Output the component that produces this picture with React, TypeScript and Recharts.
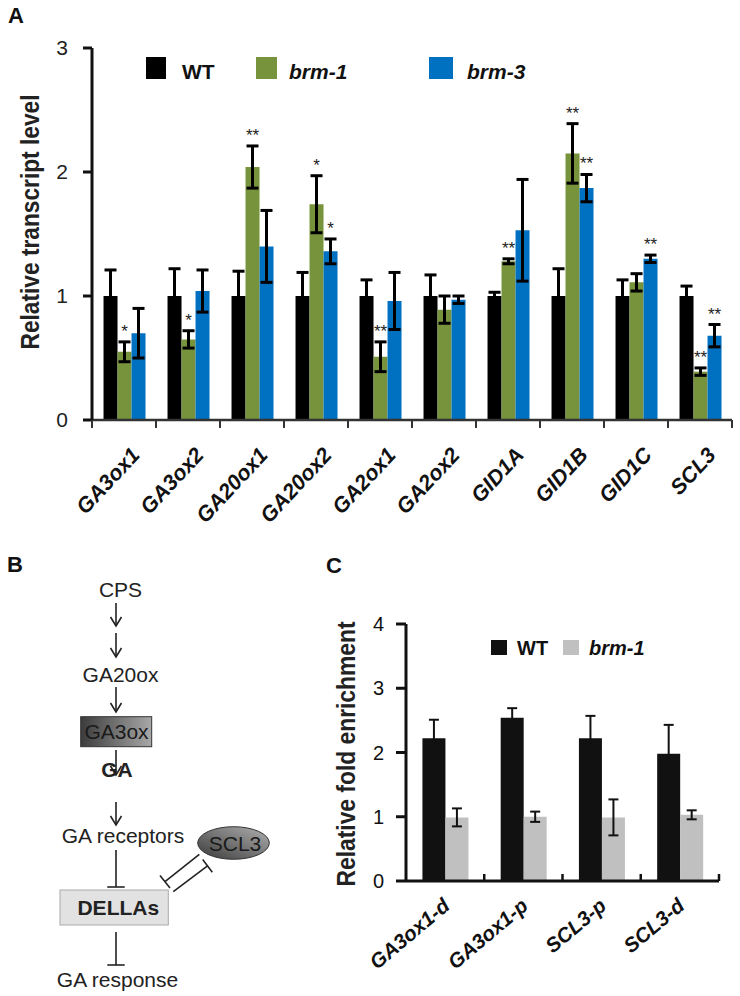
import React from 'react';
import { BarChart, Bar, XAxis, YAxis, ErrorBar, LabelList, Legend } from 'recharts';

// ---------- Panel A data ----------
const genesA = ['GA3ox1', 'GA3ox2', 'GA20ox1', 'GA20ox2', 'GA2ox1', 'GA2ox2', 'GID1A', 'GID1B', 'GID1C', 'SCL3'];
const wtA = [1, 1, 1, 1, 1, 1, 1, 1, 1, 1];
const wtErrA = [0.21, 0.22, 0.2, 0.19, 0.13, 0.17, 0.03, 0.22, 0.13, 0.08];
const brm1A = [0.55, 0.65, 2.04, 1.74, 0.51, 0.89, 1.28, 2.15, 1.11, 0.39];
const brm1ErrA = [0.08, 0.07, 0.17, 0.23, 0.12, 0.11, 0.02, 0.24, 0.07, 0.03];
const brm3A = [0.7, 1.04, 1.4, 1.36, 0.96, 0.97, 1.53, 1.87, 1.3, 0.68];
const brm3ErrA = [0.2, 0.17, 0.29, 0.1, 0.23, 0.03, 0.41, 0.11, 0.03, 0.09];
const brm1SigA = ['*', '*', '**', '*', '**', '', '**', '**', '', '**'];
const brm3SigA = ['', '', '', '*', '', '', '', '**', '**', '**'];
const yTicksA = [0, 1, 2, 3];

// ---------- Panel C data ----------
const regionsC = ['GA3ox1-d', 'GA3ox1-p', 'SCL3-p', 'SCL3-d'];
const wtC = [2.22, 2.54, 2.22, 1.98];
const wtErrC = [0.29, 0.15, 0.35, 0.45];
const brm1C = [0.99, 1.0, 0.99, 1.03];
const brm1ErrC = [0.14, 0.08, 0.28, 0.07];
const yTicksC = [0, 1, 2, 3, 4];

const dataA = genesA.map((gene, i) => ({
  gene,
  wt: wtA[i],
  wtErr: wtErrA[i],
  brm1: brm1A[i],
  brm1Err: brm1ErrA[i],
  brm3: brm3A[i],
  brm3Err: brm3ErrA[i],
  brm1Sig: brm1SigA[i],
  brm3Sig: brm3SigA[i],
}));

const dataC = regionsC.map((region, i) => ({
  region,
  wt: wtC[i],
  wtErr: wtErrC[i],
  brm1: brm1C[i],
  brm1Err: brm1ErrC[i],
}));

const FONT = "'Liberation Sans', Arial, Helvetica, sans-serif";

const makeStar = (key: 'brm1' | 'brm3') => (props: any) => {
  const vb = props.viewBox || {};
  const x = Number(vb.x ?? props.x);
  const y = Number(vb.y ?? props.y);
  const w = Number(vb.width ?? props.width);
  const h = Number(vb.height ?? props.height);
  const row: any = dataA[props.index];
  const text = props.value;
  if (!text || !row) return null;
  const v = row[key];
  const e = row[key + 'Err'];
  const errTop = y - (h / v) * e;
  return (
    <text x={x + w / 2} y={errTop - 5} textAnchor="middle" fontSize={17} fill="#222" fontFamily={FONT}>
      {text}
    </text>
  );
};

function XTickA(props: any) {
  const { x, y, payload, index, visibleTicksCount, width } = props;
  const n = visibleTicksCount || genesA.length;
  const bw = width ? width / n : 64;
  const ax = x + 17;
  const ay = y + 36;
  return (
    <g>
      <line x1={x - bw / 2} y1={y} x2={x - bw / 2} y2={y + 8} stroke="#333" strokeWidth={2} />
      {index === n - 1 && <line x1={x + bw / 2} y1={y} x2={x + bw / 2} y2={y + 8} stroke="#333" strokeWidth={2} />}
      <text
        x={ax}
        y={ay}
        transform={`rotate(-47, ${ax}, ${ay})`}
        textAnchor="end"
        fontFamily={FONT}
        fontSize={21.5}
        fontWeight="bold"
        fontStyle="italic"
        fill="#111"
      >
        {payload.value}
      </text>
    </g>
  );
}

function XTickC(props: any) {
  const { x, y, payload, index, visibleTicksCount, width } = props;
  const n = visibleTicksCount || regionsC.length;
  const bw = width ? width / n : 78;
  const ax = x + 6;
  const ay = y + 27;
  return (
    <g>
      {index > 0 && <line x1={x - bw / 2} y1={y} x2={x - bw / 2} y2={y - 7} stroke="#111" strokeWidth={2.5} />}
      {index === n - 1 && <line x1={x + bw / 2} y1={y} x2={x + bw / 2} y2={y - 7} stroke="#111" strokeWidth={2.5} />}
      <text
        x={ax}
        y={ay}
        transform={`rotate(-40, ${ax}, ${ay})`}
        textAnchor="end"
        fontFamily={FONT}
        fontSize={20.5}
        fontWeight="bold"
        fontStyle="italic"
        fill="#111"
      >
        {payload.value}
      </text>
    </g>
  );
}

const legendAPos = [
  { sq: 6, sw: 20, tx: 42 },
  { sq: 116, sw: 21, tx: 149 },
  { sq: 289, sw: 24, tx: 327 },
];

function LegendA(props: any) {
  const items = props.payload || [];
  return (
    <svg width={420} height={30} style={{ overflow: 'visible' }}>
      {items.map((it: any, i: number) => {
        const p = legendAPos[i];
        if (!p) return null;
        const italic = String(it.value).startsWith('brm');
        return (
          <g key={i}>
            <rect x={p.sq} y={2} width={p.sw} height={22} fill={it.color} />
            <text x={p.tx} y={23.5} fontFamily={FONT} fontSize={21} fontWeight="bold" fontStyle={italic ? 'italic' : 'normal'} fill="#111">
              {it.value}
            </text>
          </g>
        );
      })}
    </svg>
  );
}

const legendCPos = [
  { sq: 0, tx: 26 },
  { sq: 72, tx: 98 },
];

function LegendC(props: any) {
  const items = props.payload || [];
  return (
    <svg width={200} height={24} style={{ overflow: 'visible' }}>
      {items.map((it: any, i: number) => {
        const p = legendCPos[i];
        if (!p) return null;
        const italic = String(it.value).startsWith('brm');
        return (
          <g key={i}>
            <rect x={p.sq} y={2} width={16} height={15} fill={it.color} />
            <text x={p.tx} y={17} fontFamily={FONT} fontSize={20} fontWeight="bold" fontStyle={italic ? 'italic' : 'normal'} fill="#111">
              {it.value}
            </text>
          </g>
        );
      })}
    </svg>
  );
}

function Arrow({ x, y1, y2 }: { x: number; y1: number; y2: number }) {
  return (
    <g stroke="#222" strokeWidth={1.6} fill="none">
      <line x1={x} y1={y1} x2={x} y2={y2} />
      <polyline points={`${x - 5.5},${y2 - 9} ${x},${y2} ${x + 5.5},${y2 - 9}`} />
    </g>
  );
}

function Inhibit({ x1, y1, x2, y2, half }: { x1: number; y1: number; x2: number; y2: number; half: number }) {
  const dx = x2 - x1;
  const dy = y2 - y1;
  const len = Math.sqrt(dx * dx + dy * dy);
  const px = -dy / len;
  const py = dx / len;
  return (
    <g stroke="#222" strokeWidth={1.6} fill="none">
      <line x1={x1} y1={y1} x2={x2} y2={y2} />
      <line x1={x2 - px * half} y1={y2 - py * half} x2={x2 + px * half} y2={y2 + py * half} />
    </g>
  );
}

function Overlay() {
  return (
    <svg width={740} height={996} style={{ position: 'absolute', left: 0, top: 0, pointerEvents: 'none' }}>
      <defs>
        <linearGradient id="gaBox" x1="0" y1="0" x2="1" y2="0">
          <stop offset="0" stopColor="#3c3c3c" />
          <stop offset="1" stopColor="#a8a8a8" />
        </linearGradient>
        <linearGradient id="sclEll" x1="0" y1="1" x2="1" y2="0">
          <stop offset="0" stopColor="#3a3a3a" />
          <stop offset="1" stopColor="#b0b0b0" />
        </linearGradient>
      </defs>
      {/* panel letters */}
      <text x={8} y={23} fontFamily={FONT} fontSize={22} fontWeight="bold" fill="#111">A</text>
      <text x={7} y={572} fontFamily={FONT} fontSize={22} fontWeight="bold" fill="#111">B</text>
      <text x={326} y={573} fontFamily={FONT} fontSize={22} fontWeight="bold" fill="#111">C</text>

      {/* axis titles */}
      <text
        x={38.5}
        y={222}
        transform="rotate(-90, 38.5, 222)"
        textAnchor="middle"
        fontFamily={FONT}
        fontSize={26}
        fontWeight="bold"
        fill="#222"
        textLength={255}
        lengthAdjust="spacingAndGlyphs"
      >
        Relative transcript level
      </text>
      <text
        x={355}
        y={754}
        transform="rotate(-90, 355, 754)"
        textAnchor="middle"
        fontFamily={FONT}
        fontSize={26}
        fontWeight="bold"
        fill="#222"
        textLength={265}
        lengthAdjust="spacingAndGlyphs"
      >
        Relative fold enrichment
      </text>

      {/* panel B diagram */}
      <g fontFamily={FONT} fontSize={21} fill="#222" textAnchor="middle">
        <text x={120.5} y={597}>CPS</text>
        <Arrow x={116} y1={603} y2={626} />
        <Arrow x={116} y1={633} y2={657} />
        <text x={120.5} y={682}>GA20ox</text>
        <Arrow x={116} y1={687} y2={712} />
        <rect x={80.7} y={716.7} width={71} height={30} fill="url(#gaBox)" stroke="#333" strokeWidth={1} />
        <text x={116.5} y={738.5} fill="#1a1a1a">GA3ox</text>
        <Arrow x={116} y1={750} y2={775} />
        <text x={117} y={777} fontWeight="bold">GA</text>
        <Arrow x={116} y1={802} y2={825} />
        <text x={123} y={843}>GA receptors</text>
        <Inhibit x1={116} y1={850} x2={116} y2={887} half={8.7} />
        <rect x={60} y={890} width={108.3} height={35} fill="#e2e2e2" stroke="#aaaaaa" strokeWidth={1} />
        <text x={118.3} y={915} fontWeight="bold">DELLAs</text>
        <Inhibit x1={116} y1={932} x2={116} y2={965} half={8.7} />
        <text x={117.5} y={987}>GA response</text>
        <ellipse cx={233.5} cy={843} rx={35.8} ry={16.3} fill="url(#sclEll)" stroke="#333" strokeWidth={1} />
        <text x={235} y={850.5} fill="#1a1a1a">SCL3</text>
        <Inhibit x1={199.3} y1={854.3} x2={165} y2={881.7} half={8} />
        <Inhibit x1={173.3} y1={891.7} x2={207.5} y2={865.8} half={8} />
      </g>
    </svg>
  );
}

export default function App() {
  return (
    <div style={{ position: 'absolute', left: 0, top: 0, width: 740, height: 996, background: '#fff' }}>
      <div style={{ position: 'absolute', left: 0, top: 0 }}>
        <BarChart
          width={740}
          height={540}
          data={dataA}
          margin={{ top: 48, right: 8, left: 0, bottom: 20 }}
          barCategoryGap="18%"
          barGap={0}
        >
          <XAxis
            dataKey="gene"
            interval={0}
            tickLine={false}
            tickSize={0}
            tickMargin={0}
            height={100}
            axisLine={{ stroke: '#333', strokeWidth: 2.5 }}
            tick={<XTickA />}
          />
          <YAxis
            domain={[0, 3]}
            ticks={yTicksA}
            width={92}
            tickSize={9}
            tickMargin={15}
            axisLine={{ stroke: '#111', strokeWidth: 3 }}
            tickLine={{ stroke: '#111', strokeWidth: 3 }}
            tick={{ fontFamily: FONT, fontSize: 21, fill: '#222' }}
          />
          <Legend
            layout="vertical"
            align="center"
            verticalAlign="middle"
            wrapperStyle={{ left: 140, top: 55, width: 420, height: 30 }}
            content={<LegendA />}
          />
          <Bar dataKey="wt" name="WT" fill="#000000" isAnimationActive={false}>
            <ErrorBar dataKey="wtErr" width={6} strokeWidth={3} stroke="#000" />
          </Bar>
          <Bar dataKey="brm1" name="brm-1" fill="#77933C" isAnimationActive={false}>
            <ErrorBar dataKey="brm1Err" width={6} strokeWidth={3} stroke="#000" />
            <LabelList dataKey="brm1Sig" content={makeStar('brm1')} />
          </Bar>
          <Bar dataKey="brm3" name="brm-3" fill="#0070C0" isAnimationActive={false}>
            <ErrorBar dataKey="brm3Err" width={6} strokeWidth={3} stroke="#000" />
            <LabelList dataKey="brm3Sig" content={makeStar('brm3')} />
          </Bar>
        </BarChart>
      </div>

      <div style={{ position: 'absolute', left: 300, top: 600 }}>
        <BarChart
          width={440}
          height={396}
          data={dataC}
          margin={{ top: 24, right: 21, left: 0, bottom: 5 }}
          barCategoryGap="21%"
          barGap={0}
        >
          <XAxis
            dataKey="region"
            interval={0}
            tickLine={false}
            tickSize={0}
            tickMargin={0}
            height={110}
            axisLine={{ stroke: '#111', strokeWidth: 3 }}
            tick={<XTickC />}
          />
          <YAxis
            domain={[0, 4]}
            ticks={yTicksC}
            width={106}
            tickSize={10}
            tickMargin={12}
            axisLine={{ stroke: '#111', strokeWidth: 3 }}
            tickLine={{ stroke: '#111', strokeWidth: 3 }}
            tick={{ fontFamily: FONT, fontSize: 20, fill: '#111' }}
          />
          <Legend
            layout="vertical"
            align="center"
            verticalAlign="middle"
            wrapperStyle={{ left: 191, top: 38, width: 200, height: 24 }}
            content={<LegendC />}
          />
          <Bar dataKey="wt" name="WT" fill="#111111" isAnimationActive={false}>
            <ErrorBar dataKey="wtErr" width={5} strokeWidth={2} stroke="#111" />
          </Bar>
          <Bar dataKey="brm1" name="brm-1" fill="#C0C0C0" isAnimationActive={false}>
            <ErrorBar dataKey="brm1Err" width={5} strokeWidth={2} stroke="#111" />
          </Bar>
        </BarChart>
      </div>

      <Overlay />
    </div>
  );
}
